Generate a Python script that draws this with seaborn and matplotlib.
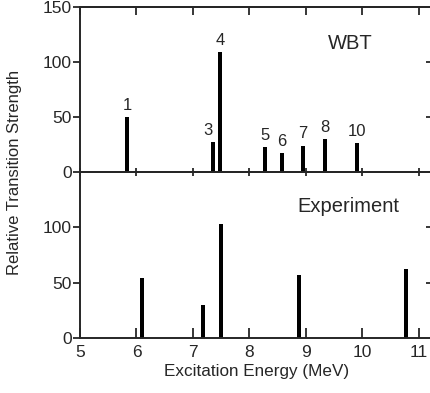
import matplotlib
matplotlib.use('Agg')
import matplotlib.pyplot as plt
import seaborn as sns

# -------------------------------
# Data
# -------------------------------
wbt_energy = [5.83, 7.36, 7.48, 8.27, 8.58, 8.95, 9.34, 9.90]
wbt_strength = [50, 27, 109, 23, 17, 24, 30, 26]
wbt_labels = ['1', '3', '4', '5', '6', '7', '8', '10']

exp_energy = [6.10, 7.18, 7.50, 8.88, 10.77]
exp_strength = [54, 30, 103, 57, 62]

x_ticks = [5, 6, 7, 8, 9, 10, 11]

# -------------------------------
# Style
# -------------------------------
sns.set_style('ticks')
plt.rcParams['font.family'] = ['Liberation Sans', 'DejaVu Sans']
plt.rcParams['axes.linewidth'] = 1.4
plt.rcParams['xtick.major.width'] = 1.3
plt.rcParams['ytick.major.width'] = 1.3

fig = plt.figure(figsize=(4.31, 3.93), dpi=100)
W, H = 431, 393
left_px, right_px = 80, 433
ax1 = fig.add_axes([left_px / W, 1 - 172 / H, (right_px - left_px) / W, 165 / H])
ax2 = fig.add_axes([left_px / W, 1 - 338 / H, (right_px - left_px) / W, 166 / H])

# bars
sns.barplot(x=wbt_energy, y=wbt_strength, native_scale=True, width=0.6,
            color='black', saturation=1, linewidth=0, ax=ax1)
sns.barplot(x=exp_energy, y=exp_strength, native_scale=True, width=0.22,
            color='black', saturation=1, linewidth=0, ax=ax2)

# peak labels
for xe, ye, lab in zip(wbt_energy, wbt_strength, wbt_labels):
    dx = -4 if lab == '3' else 0
    ax1.annotate(lab, (xe, ye), xytext=(dx, 3), textcoords='offset points',
                 ha='center', va='bottom', fontsize=12)

ax1.text(0.765, 0.78, 'WBT', transform=ax1.transAxes, ha='center',
         va='center', fontsize=14.5)
ax2.text(0.760, 0.79, 'Experiment', transform=ax2.transAxes, ha='center',
         va='center', fontsize=14.5)

for ax in (ax1, ax2):
    ax.set_xlim(5, 11.25)
    ax.set_ylim(0, 150)
    ax.set_xticks(x_ticks)
    ax.set_ylabel('')
    ax.tick_params(axis='y', direction='out', length=5, pad=1, labelsize=12.5)

# top panel
ax1.set_yticks([0, 50, 100, 150])
ax1.tick_params(axis='x', direction='in', length=3, labelbottom=False)
sec1 = ax1.secondary_xaxis('top')
sec1.set_xticks(x_ticks, labels=[])
sec1.tick_params(direction='in', length=6)
r1 = ax1.secondary_yaxis('right')
r1.set_yticks([50, 100], labels=[])
r1.tick_params(direction='in', length=5)

# bottom panel
ax2.set_yticks([0, 50, 100])
ax2.tick_params(axis='x', direction='in', length=7, pad=5, labelsize=12.5)
sec2 = ax2.secondary_xaxis('top')
sec2.set_xticks(x_ticks, labels=[])
sec2.tick_params(direction='in', length=3)
r2 = ax2.secondary_yaxis('right')
r2.set_yticks([50, 100], labels=[])
r2.tick_params(direction='in', length=5)

ax2.set_xlabel('Excitation Energy (MeV)', fontsize=12.3, labelpad=3)
fig.text(15 / W, 1 - 172 / H, 'Relative Transition Strength', rotation=90,
         ha='center', va='center', fontsize=12)

plt.savefig('out.png', dpi=100)
